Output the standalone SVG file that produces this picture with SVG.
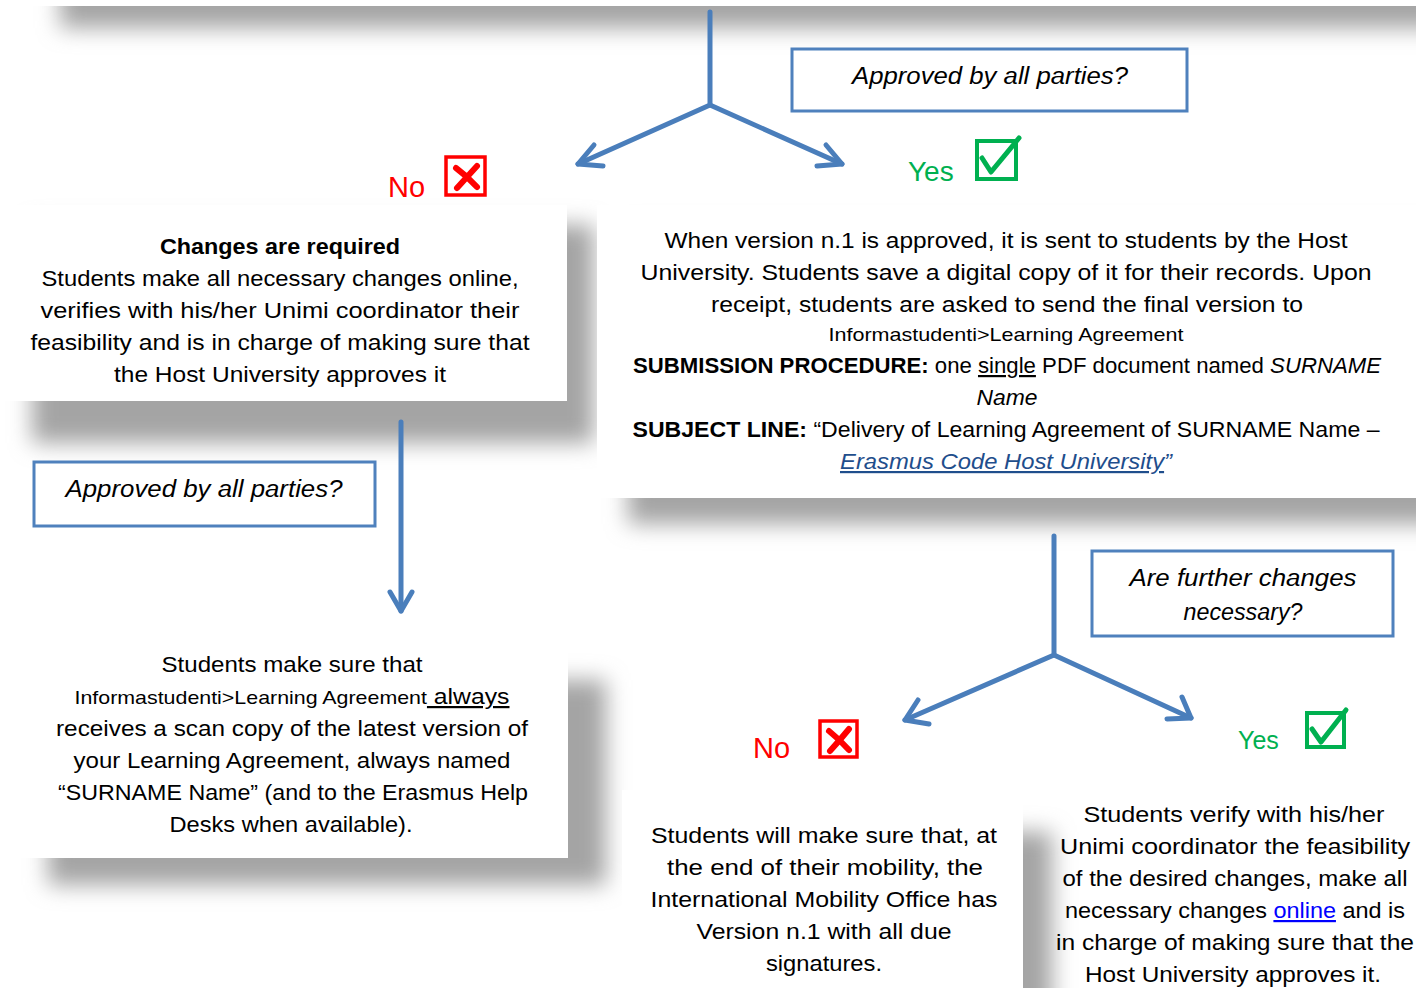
<svg xmlns="http://www.w3.org/2000/svg" width="1416" height="988" viewBox="0 0 1416 988">
<style>
.t{font-family:"Liberation Sans",Arial,sans-serif;font-size:22px;fill:#000;text-anchor:middle}
.s{font-size:19px}
.b{font-weight:bold}
.i{font-style:italic}
.q{font-family:"Liberation Sans",Arial,sans-serif;font-size:23px;font-style:italic;fill:#000;text-anchor:middle}
.qb{fill:#fff;stroke:#4f81bd;stroke-width:3}
.box{fill:#fff}
.sh{fill:#a4a4a4;filter:url(#blur)}
.ar{fill:none;stroke:#4a7ebb;stroke-width:5;stroke-linecap:round;stroke-linejoin:round}
.no{font-family:"Liberation Sans",Arial,sans-serif;fill:#ff0000}
.yes{font-family:"Liberation Sans",Arial,sans-serif;fill:#00b050}
.xb{fill:#fff;stroke:#ff0000;stroke-width:3.5}
.xm{stroke:#ff0000;stroke-width:6;stroke-linecap:round;fill:none}
.cb{fill:#fff;stroke:#00b050;stroke-width:4}
.cm{stroke:#00b050;stroke-width:5;fill:none;stroke-linecap:round;stroke-linejoin:round}
</style>
<defs>
<filter id="blur" x="-20%" y="-40%" width="140%" height="180%"><feGaussianBlur stdDeviation="11"/></filter>
</defs>
<rect width="1416" height="988" fill="#fff"/>
<g id="shadows">
<rect class="sh" x="60" y="-40" width="1420" height="68"/>
<rect class="sh" x="32" y="225" width="562" height="218"/>
<rect class="sh" x="628" y="230" width="830" height="294"/>
<rect class="sh" x="48" y="680" width="558" height="205"/>
<rect class="sh" x="652" y="832" width="400" height="200"/>
</g>
<rect x="0" y="0" width="1416" height="6" fill="#fff"/>

<g id="connectors">
<polyline class="ar" points="710,12 710,105 578,164"/>
<polyline class="ar" points="710,105 842,164"/>
<polyline class="ar" points="594,145 578,164 603,166"/>
<polyline class="ar" points="826,145 842,164 817,166"/>
<line class="ar" x1="401" y1="422" x2="401" y2="611"/>
<polyline class="ar" points="390,592 401,611 412,592"/>
<polyline class="ar" points="1054,536 1054,655 905,720"/>
<polyline class="ar" points="1054,655 1191,718"/>
<polyline class="ar" points="918,700 905,720 929,724"/>
<polyline class="ar" points="1182,697 1191,718 1167,719"/>
</g>

<g id="q-top">
<rect class="qb" x="792" y="49" width="395" height="62"/>
<text class="q" x="990" y="84" textLength="276" lengthAdjust="spacingAndGlyphs">Approved by all parties?</text>
</g>

<g id="no-top">
<text class="no" x="388" y="197" font-size="29">No</text>
<rect class="xb" x="446" y="157" width="39" height="38"/>
<path class="xm" d="M456,168 Q467,176 477,187 M477,166 Q467,177 457,188"/>
</g>

<g id="yes-top">
<text class="yes" x="908" y="181" font-size="28">Yes</text>
<rect class="cb" x="977" y="141" width="39" height="38"/>
<polyline class="cm" points="982,158 991,172 1019,138"/>
</g>

<g id="box-changes">
<rect class="box" x="0" y="205" width="567" height="196"/>
<text class="t b" x="280" y="254" textLength="240" lengthAdjust="spacingAndGlyphs">Changes are required</text>
<text class="t" x="280" y="286" textLength="477" lengthAdjust="spacingAndGlyphs">Students make all necessary changes online,</text>
<text class="t" x="280" y="318" textLength="479" lengthAdjust="spacingAndGlyphs">verifies with his/her Unimi coordinator their</text>
<text class="t" x="280" y="350" textLength="499" lengthAdjust="spacingAndGlyphs">feasibility and is in charge of making sure that</text>
<text class="t" x="280" y="382" textLength="332" lengthAdjust="spacingAndGlyphs">the Host University approves it</text>
</g>

<g id="box-approved">
<rect class="box" x="597" y="205" width="819" height="293"/>
<text class="t" x="1006" y="248" textLength="683" lengthAdjust="spacingAndGlyphs">When version n.1 is approved, it is sent to students by the Host</text>
<text class="t" x="1006" y="280" textLength="731" lengthAdjust="spacingAndGlyphs">University. Students save a digital copy of it for their records. Upon</text>
<text class="t" x="1007" y="312" textLength="592" lengthAdjust="spacingAndGlyphs">receipt, students are asked to send the final version to</text>
<text class="t s" x="1006" y="341" textLength="355" lengthAdjust="spacingAndGlyphs">Informastudenti&gt;Learning Agreement</text>
<text class="t" x="1007" y="373" textLength="748" lengthAdjust="spacingAndGlyphs"><tspan class="b">SUBMISSION PROCEDURE:</tspan> one <tspan text-decoration="underline">single</tspan> PDF document named <tspan class="i">SURNAME</tspan></text>
<text class="t i" x="1007" y="405" textLength="61" lengthAdjust="spacingAndGlyphs">Name</text>
<text class="t" x="1006" y="437" textLength="747" lengthAdjust="spacingAndGlyphs"><tspan class="b">SUBJECT LINE:</tspan> “Delivery of Learning Agreement of SURNAME Name –</text>
<text class="t i" x="1006" y="469" textLength="332" lengthAdjust="spacingAndGlyphs" style="fill:#1f4e8c"><tspan text-decoration="underline">Erasmus Code Host University</tspan>”</text>
</g>

<g id="q-left">
<rect class="qb" x="34" y="462" width="341" height="64"/>
<text class="q" x="204" y="497" textLength="277" lengthAdjust="spacingAndGlyphs">Approved by all parties?</text>
</g>

<g id="box-scan">
<rect class="box" x="15" y="640" width="553" height="218"/>
<text class="t" x="292" y="672" textLength="261" lengthAdjust="spacingAndGlyphs">Students make sure that</text>
<text class="t" x="292" y="704" textLength="435" lengthAdjust="spacingAndGlyphs"><tspan class="s">Informastudenti&gt;Learning Agreement</tspan><tspan text-decoration="underline"> always</tspan></text>
<text class="t" x="292" y="736" textLength="472" lengthAdjust="spacingAndGlyphs">receives a scan copy of the latest version of</text>
<text class="t" x="292" y="768" textLength="437" lengthAdjust="spacingAndGlyphs">your Learning Agreement, always named</text>
<text class="t" x="293" y="800" textLength="470" lengthAdjust="spacingAndGlyphs">“SURNAME Name” (and to the Erasmus Help</text>
<text class="t" x="291" y="832" textLength="243" lengthAdjust="spacingAndGlyphs">Desks when available).</text>
</g>

<g id="q-further">
<rect class="qb" x="1092" y="551" width="301" height="85"/>
<text class="q" x="1243" y="586" textLength="227" lengthAdjust="spacingAndGlyphs">Are further changes</text>
<text class="q" x="1243" y="620" textLength="119" lengthAdjust="spacingAndGlyphs">necessary?</text>
</g>

<g id="no-bottom">
<text class="no" x="753" y="758" font-size="29">No</text>
<rect class="xb" x="820" y="721" width="37" height="36"/>
<path class="xm" d="M829,731 Q839,739 849,750 M849,729 Q840,740 830,751"/>
</g>

<g id="yes-bottom">
<text class="yes" x="1238" y="749" font-size="25">Yes</text>
<rect class="cb" x="1307" y="713" width="37" height="34"/>
<polyline class="cm" points="1312,729 1321,742 1346,710"/>
</g>

<g id="box-final">
<rect class="box" x="622" y="790" width="401" height="200"/>
<text class="t" x="824" y="843" textLength="346" lengthAdjust="spacingAndGlyphs">Students will make sure that, at</text>
<text class="t" x="825" y="875" textLength="316" lengthAdjust="spacingAndGlyphs">the end of their mobility, the</text>
<text class="t" x="824" y="907" textLength="347" lengthAdjust="spacingAndGlyphs">International Mobility Office has</text>
<text class="t" x="824" y="939" textLength="255" lengthAdjust="spacingAndGlyphs">Version n.1 with all due</text>
<text class="t" x="824" y="971" textLength="116" lengthAdjust="spacingAndGlyphs">signatures.</text>
</g>

<g id="box-verify">
<text class="t" x="1234" y="822" textLength="301" lengthAdjust="spacingAndGlyphs">Students verify with his/her</text>
<text class="t" x="1235" y="854" textLength="350" lengthAdjust="spacingAndGlyphs">Unimi coordinator the feasibility</text>
<text class="t" x="1235" y="886" textLength="345" lengthAdjust="spacingAndGlyphs">of the desired changes, make all</text>
<text class="t" x="1235" y="918" textLength="340" lengthAdjust="spacingAndGlyphs">necessary changes <tspan style="fill:#0000ff" text-decoration="underline">online</tspan> and is</text>
<text class="t" x="1235" y="950" textLength="358" lengthAdjust="spacingAndGlyphs">in charge of making sure that the</text>
<text class="t" x="1233" y="982" textLength="296" lengthAdjust="spacingAndGlyphs">Host University approves it.</text>
</g>
</svg>
